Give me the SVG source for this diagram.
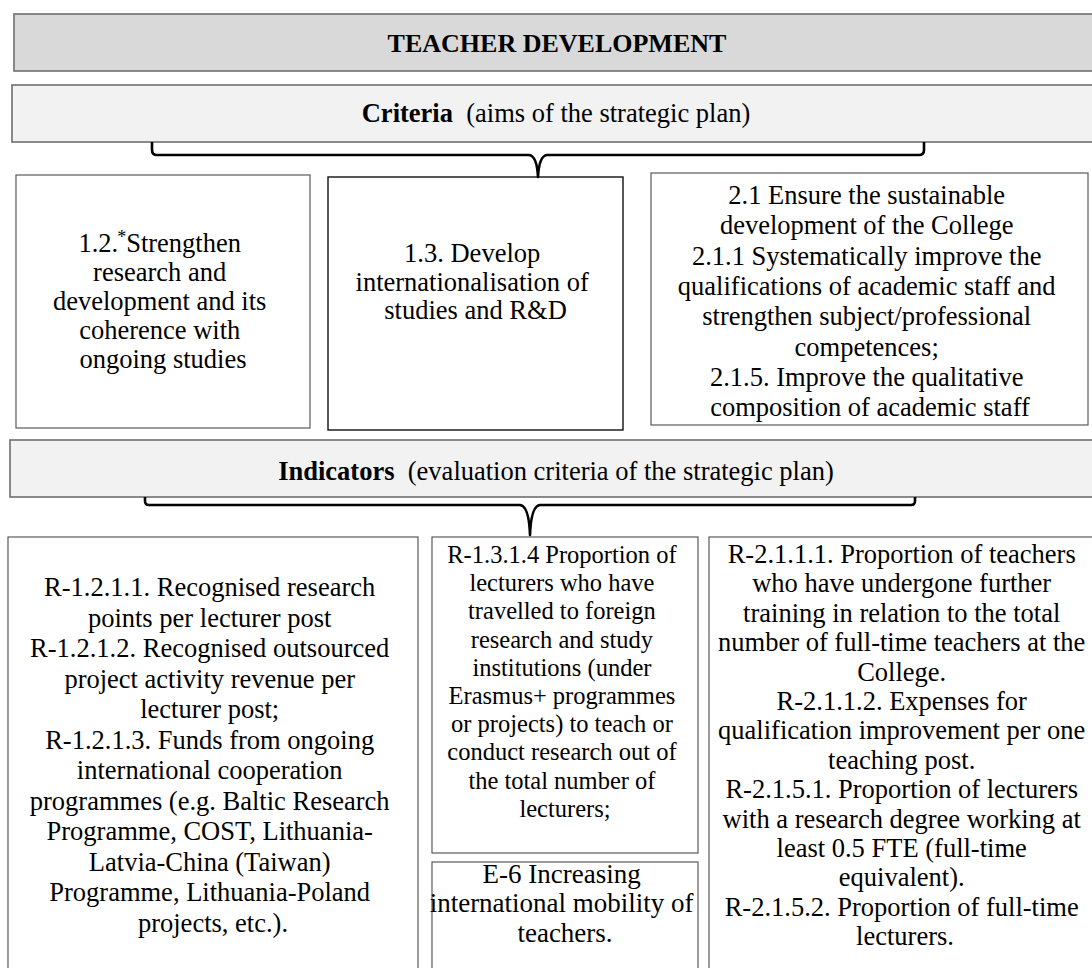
<svg xmlns="http://www.w3.org/2000/svg" width="1092" height="968" viewBox="0 0 1092 968">
  <style>
    .hdr { fill: #d9d9d9; stroke: #6e6e6e; stroke-width: 1.6; }
    .sub { fill: #f2f2f2; stroke: #6e6e6e; stroke-width: 1.6; }
    .box { fill: #ffffff; stroke: #5a5a5a; stroke-width: 1.2; }
    .boxd { fill: #ffffff; stroke: #111111; stroke-width: 1.4; }
    .brace { fill: none; stroke: #000000; stroke-width: 2.6; stroke-linejoin: round; }
    text { font-family: "Liberation Serif", "Times New Roman", serif; fill: #000000; text-anchor: middle; }
    .t { font-size: 26.5px; }
    .tb { font-size: 26px; font-weight: bold; }
    .ts { font-size: 24.5px; }
    .tl { font-size: 27px; }
  </style>

  <!-- title bar -->
  <g id="title">
    <rect class="hdr" x="14" y="14" width="1090" height="57"/>
    <text class="tb" x="557" y="52">TEACHER DEVELOPMENT</text>
  </g>

  <!-- criteria heading -->
  <g id="criteria">
    <rect class="sub" x="12" y="85" width="1092" height="57"/>
    <text class="t" x="556" y="122" xml:space="preserve"><tspan font-weight="bold">Criteria</tspan>  (aims of the strategic plan)</text>
  </g>

  <!-- aims -->
  <g id="aim-1-2">
    <rect class="box" x="16" y="175" width="294" height="253"/>
    <text class="t">
      <tspan x="163" y="252">1.2.<tspan font-size="18" dy="-9" dx="-1">*</tspan><tspan dy="9">Strengthen</tspan></tspan>
      <tspan x="163" y="281">research and</tspan>
      <tspan x="163" y="310">development and its</tspan>
      <tspan x="163" y="339">coherence with</tspan>
      <tspan x="163" y="368">ongoing studies</tspan>
    </text>
  </g>

  <g id="aim-1-3">
    <rect class="boxd" x="328" y="177" width="295" height="253"/>
    <text class="t">
      <tspan x="475.5" y="262">1.3. Develop</tspan>
      <tspan x="475.5" y="290.5">internationalisation of</tspan>
      <tspan x="475.5" y="319">studies and R&amp;D</tspan>
    </text>
  </g>

  <g id="aim-2-1">
    <rect class="box" x="651" y="173" width="437" height="252"/>
    <text class="t">
      <tspan x="870" y="204">2.1 Ensure the sustainable</tspan>
      <tspan x="870" y="234.3">development of the College</tspan>
      <tspan x="870" y="264.6">2.1.1 Systematically improve the</tspan>
      <tspan x="870" y="294.9">qualifications of academic staff and</tspan>
      <tspan x="870" y="325.2">strengthen subject/professional</tspan>
      <tspan x="870" y="355.5">competences;</tspan>
      <tspan x="870" y="385.8">2.1.5. Improve the qualitative</tspan>
      <tspan x="870" y="416">composition of academic staff</tspan>
    </text>
  </g>

  <!-- indicators heading -->
  <g id="indicators">
    <rect class="sub" x="10" y="440" width="1094" height="57"/>
    <text class="t" x="556" y="480" xml:space="preserve"><tspan font-weight="bold">Indicators</tspan>  (evaluation criteria of the strategic plan)</text>
  </g>

  <!-- indicator groups -->
  <g id="ind-1-2">
    <rect class="box" x="8" y="537" width="410" height="440"/>
    <text class="t">
      <tspan x="213" y="596">R-1.2.1.1. Recognised research</tspan>
      <tspan x="213" y="626.5">points per lecturer post</tspan>
      <tspan x="213" y="657">R-1.2.1.2. Recognised outsourced</tspan>
      <tspan x="213" y="687.5">project activity revenue per</tspan>
      <tspan x="213" y="718">lecturer post;</tspan>
      <tspan x="213" y="748.5">R-1.2.1.3. Funds from ongoing</tspan>
      <tspan x="213" y="779">international cooperation</tspan>
      <tspan x="213" y="809.5">programmes (e.g. Baltic Research</tspan>
      <tspan x="213" y="840">Programme, COST, Lithuania-</tspan>
      <tspan x="213" y="870.5">Latvia-China (Taiwan)</tspan>
      <tspan x="213" y="901">Programme, Lithuania-Poland</tspan>
      <tspan x="213" y="931.5">projects, etc.).</tspan>
    </text>
  </g>

  <g id="ind-1-3">
    <rect class="box" x="432" y="537" width="266" height="316"/>
    <text class="ts">
      <tspan x="565" y="563">R-1.3.1.4 Proportion of</tspan>
      <tspan x="565" y="591.2">lecturers who have</tspan>
      <tspan x="565" y="619.4">travelled to foreign</tspan>
      <tspan x="565" y="647.6">research and study</tspan>
      <tspan x="565" y="675.8">institutions (under</tspan>
      <tspan x="565" y="704">Erasmus+ programmes</tspan>
      <tspan x="565" y="732.2">or projects) to teach or</tspan>
      <tspan x="565" y="760.4">conduct research out of</tspan>
      <tspan x="565" y="788.6">the total number of</tspan>
      <tspan x="565" y="816.8">lecturers;</tspan>
    </text>
  </g>

  <g id="ind-e6">
    <rect class="box" x="432" y="862" width="266" height="115"/>
    <text class="tl">
      <tspan x="565" y="883">E-6 Increasing</tspan>
      <tspan x="565" y="912">international mobility of</tspan>
      <tspan x="565" y="942">teachers.</tspan>
    </text>
  </g>

  <g id="ind-2-1">
    <rect class="box" x="709" y="537" width="395" height="440"/>
    <text class="t">
      <tspan x="905" y="563">R-2.1.1.1. Proportion of teachers</tspan>
      <tspan x="905" y="592.4">who have undergone further</tspan>
      <tspan x="905" y="621.8">training in relation to the total</tspan>
      <tspan x="905" y="651.2">number of full-time teachers at the</tspan>
      <tspan x="905" y="680.6">College.</tspan>
      <tspan x="905" y="710">R-2.1.1.2. Expenses for</tspan>
      <tspan x="905" y="739.4">qualification improvement per one</tspan>
      <tspan x="905" y="768.8">teaching post.</tspan>
      <tspan x="905" y="798.2">R-2.1.5.1. Proportion of lecturers</tspan>
      <tspan x="905" y="827.6">with a research degree working at</tspan>
      <tspan x="905" y="857">least 0.5 FTE (full-time</tspan>
      <tspan x="905" y="886.4">equivalent).</tspan>
      <tspan x="905" y="915.8">R-2.1.5.2. Proportion of full-time</tspan>
      <tspan x="905" y="945.2">lecturers.</tspan>
    </text>
  </g>

  <!-- braces joining the headings to the boxes below -->
  <g id="connectors">
    <path class="brace" d="M152,142 L152,150 Q152,155 157,155 L529,155 Q537,156 538,177 Q539,156 547,155 L919,155 Q924,155 924,150 L924,142"/>
    <path class="brace" d="M145,497 L145,501 Q145,505 149,505 L520,505 Q529,506 530,535 Q531,506 540,505 L911,505 Q915,505 915,501 L915,497"/>
  </g>
</svg>
